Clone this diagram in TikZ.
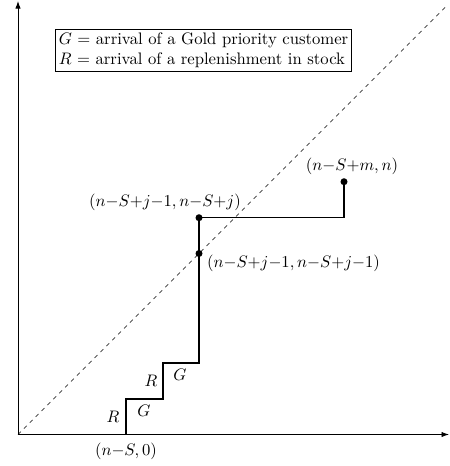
\documentclass[tikz,border=0pt]{standalone}
\usetikzlibrary{arrows.meta}
\begin{document}
\begin{tikzpicture}[x=0.6pt,y=-0.6pt,
  axis/.style={line width=0.5pt,-{Latex[length=4.5pt,width=3.2pt]}},
  stair/.style={line width=0.75pt},
  diag/.style={line width=0.4pt,dash pattern=on 2.4pt off 2.6pt},
  dot/.style={circle,fill=black,inner sep=0pt,minimum size=4.2pt},
  lbl/.style={inner sep=0pt}]
\useasboundingbox (0,0) rectangle (450,466);
\coordinate (O) at (18,434.5);
\coordinate (XE) at (449,434.5);
\coordinate (YE) at (18,1);
\coordinate (DE) at (447,5.5);
\draw[axis] (O) -- (XE);
\draw[axis] (O) -- (YE);
\draw[diag] (O) -- (DE);
\coordinate (A0) at (126,434.5);
\coordinate (A1) at (126,399);
\coordinate (A2) at (163,399);
\coordinate (A3) at (163,363);
\coordinate (A4) at (199,363);
\coordinate (A5) at (199,217.7);
\coordinate (A6) at (344,217.7);
\coordinate (A7) at (344,181.7);
\draw[stair] (A0) -- (A1) -- (A2) -- (A3) -- (A4) -- (A5) -- (A6) -- (A7);
\node[dot] (D1) at (A5) {};
\node[dot] (D2) at (199,253.5) {};
\node[dot] (D3) at (A7) {};
\node[lbl] (L0) at (126,451) {$(n{-}S,0)$};
\node[lbl] (R1) at (113,417) {$R$};
\node[lbl] (R2) at (151,381) {$R$};
\node[lbl] (G1) at (144,411) {$G$};
\node[lbl] (G2) at (180,375) {$G$};
\node[lbl] (L1) at (165,202.5) {$(n{-}S{+}j{-}1, n{-}S{+}j)$};
\node[lbl] (L2) at (293.5,263) {$(n{-}S{+}j{-}1, n{-}S{+}j{-}1)$};
\node[lbl] (L3) at (352,166.5) {$(n{-}S{+}m, n)$};
\node[draw,line width=0.5pt,align=left,inner sep=2pt] (leg) at (203.5,50.7)
  {$G$ = arrival of a Gold priority customer\\ $R$ = arrival of a replenishment in stock};
\end{tikzpicture}
\end{document}
